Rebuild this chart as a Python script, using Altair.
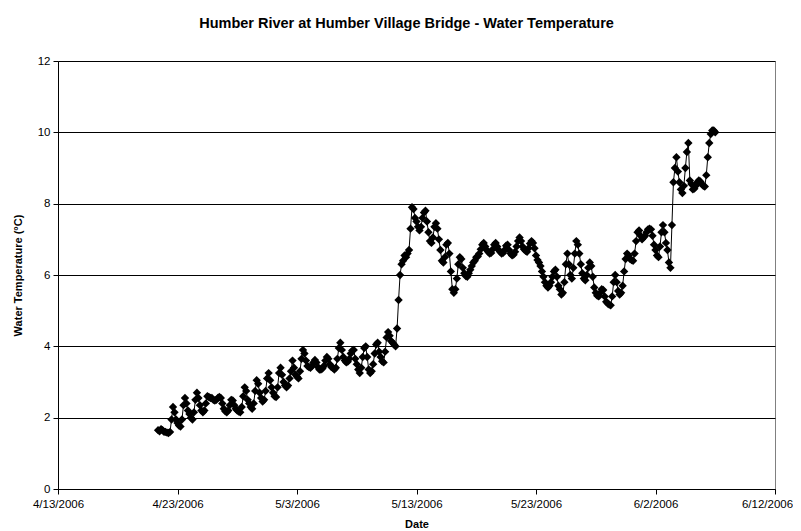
import altair as alt
import pandas as pd

# Readings every 3 hours, first reading 2006-04-21 09:00
first_reading = "2006-04-21 09:00"
step_hours = 3

# each row is one day (00,03,06,09,12,15,18,21 h); first day starts at 09 h
t_0421 = [1.65, 1.62, 1.68, 1.65, 1.60]
t_0422 = [1.60, 1.58, 1.57, 1.60, 1.95, 2.30, 2.15, 1.95]
t_0423 = [1.85, 1.78, 1.75, 1.95, 2.35, 2.55, 2.40, 2.20]
t_0424 = [2.10, 2.00, 1.95, 2.15, 2.50, 2.70, 2.55, 2.35]
t_0425 = [2.20, 2.15, 2.20, 2.40, 2.60, 2.58, 2.55, 2.55]
t_0426 = [2.50, 2.48, 2.50, 2.55, 2.58, 2.55, 2.40, 2.25]
t_0427 = [2.18, 2.15, 2.20, 2.35, 2.50, 2.48, 2.35, 2.25]
t_0428 = [2.20, 2.17, 2.15, 2.30, 2.60, 2.85, 2.75, 2.50]
t_0429 = [2.40, 2.30, 2.25, 2.40, 2.75, 3.05, 2.95, 2.70]
t_0430 = [2.55, 2.45, 2.50, 2.75, 3.10, 3.25, 3.05, 2.85]
t_0501 = [2.70, 2.60, 2.58, 2.85, 3.25, 3.40, 3.20, 3.00]
t_0502 = [2.90, 2.85, 2.90, 3.10, 3.30, 3.60, 3.40, 3.20]
t_0503 = [3.15, 3.10, 3.30, 3.65, 3.90, 3.80, 3.60, 3.45]
t_0504 = [3.42, 3.40, 3.45, 3.55, 3.62, 3.55, 3.42, 3.35]
t_0505 = [3.35, 3.38, 3.45, 3.60, 3.70, 3.65, 3.50, 3.42]
t_0506 = [3.40, 3.35, 3.40, 3.65, 3.95, 4.10, 3.90, 3.70]
t_0507 = [3.60, 3.55, 3.57, 3.65, 3.80, 3.88, 3.90, 3.65]
t_0508 = [3.50, 3.35, 3.25, 3.40, 3.70, 3.95, 4.00, 3.70]
t_0509 = [3.35, 3.25, 3.30, 3.50, 3.80, 4.05, 4.10, 3.85]
t_0510 = [3.70, 3.58, 3.55, 3.85, 4.25, 4.40, 4.30, 4.15]
t_0511 = [4.10, 4.05, 4.00, 4.50, 5.30, 6.00, 6.30, 6.40]
t_0512 = [6.55, 6.50, 6.60, 6.70, 7.30, 7.90, 7.85, 7.60]
t_0513 = [7.50, 7.35, 7.25, 7.35, 7.60, 7.75, 7.80, 7.50]
t_0514 = [7.20, 6.95, 6.90, 7.05, 7.35, 7.45, 7.30, 7.00]
t_0515 = [6.70, 6.40, 6.35, 6.50, 6.85, 6.90, 6.60, 6.10]
t_0516 = [5.60, 5.50, 5.60, 5.90, 6.30, 6.50, 6.45, 6.20]
t_0517 = [6.05, 5.97, 5.95, 6.05, 6.15, 6.25, 6.35, 6.40]
t_0518 = [6.50, 6.52, 6.60, 6.72, 6.85, 6.90, 6.80, 6.70]
t_0519 = [6.65, 6.60, 6.62, 6.72, 6.85, 6.90, 6.80, 6.70]
t_0520 = [6.65, 6.60, 6.62, 6.70, 6.82, 6.85, 6.70, 6.60]
t_0521 = [6.55, 6.57, 6.65, 6.80, 6.95, 7.05, 6.95, 6.80]
t_0522 = [6.72, 6.68, 6.65, 6.75, 6.88, 6.95, 6.90, 6.75]
t_0523 = [6.55, 6.42, 6.35, 6.25, 6.10, 5.95, 5.80, 5.70]
t_0524 = [5.65, 5.70, 5.80, 5.95, 6.10, 6.15, 5.95, 5.70]
t_0525 = [5.60, 5.45, 5.50, 5.80, 6.30, 6.60, 6.30, 6.00]
t_0526 = [5.90, 6.20, 6.60, 6.95, 6.85, 6.60, 6.30, 6.05]
t_0527 = [5.90, 5.85, 6.00, 6.20, 6.35, 6.25, 5.95, 5.65]
t_0528 = [5.50, 5.42, 5.40, 5.50, 5.60, 5.58, 5.40, 5.25]
t_0529 = [5.20, 5.17, 5.15, 5.40, 5.80, 6.00, 5.80, 5.55]
t_0530 = [5.45, 5.50, 5.70, 6.10, 6.45, 6.60, 6.55, 6.45]
t_0531 = [6.42, 6.40, 6.60, 6.95, 7.20, 7.25, 7.10, 7.00]
t_0601 = [7.05, 7.10, 7.20, 7.28, 7.30, 7.28, 7.10, 6.85]
t_0602 = [6.70, 6.55, 6.50, 6.80, 7.20, 7.40, 7.20, 6.90]
t_0603 = [6.70, 6.35, 6.20, 7.40, 8.60, 9.00, 9.30, 8.90]
t_0604 = [8.60, 8.40, 8.30, 8.50, 9.00, 9.45, 9.70, 8.65]
t_0605 = [8.55, 8.40, 8.42, 8.50, 8.60, 8.65, 8.62, 8.55]
t_0606 = [8.50, 8.48, 8.80, 9.30, 9.70, 9.95, 10.05, 10.05]
t_0607 = [10.00]

days = [t_0421, t_0422, t_0423, t_0424, t_0425, t_0426, t_0427, t_0428,
        t_0429, t_0430, t_0501, t_0502, t_0503, t_0504, t_0505, t_0506,
        t_0507, t_0508, t_0509, t_0510, t_0511, t_0512, t_0513, t_0514,
        t_0515, t_0516, t_0517, t_0518, t_0519, t_0520, t_0521, t_0522,
        t_0523, t_0524, t_0525, t_0526, t_0527, t_0528, t_0529, t_0530,
        t_0531, t_0601, t_0602, t_0603, t_0604, t_0605, t_0606, t_0607]

temps = [v for d in days for v in d]
times = pd.date_range(first_reading, periods=len(temps), freq=f"{step_hours}h")
df = pd.DataFrame({"time": times.strftime("%Y-%m-%dT%H:%M:%S"), "temp": temps})

x_tick_dates = [(2006, 4, 13), (2006, 4, 23), (2006, 5, 3), (2006, 5, 13),
                (2006, 5, 23), (2006, 6, 2), (2006, 6, 12)]
y_ticks = [0, 2, 4, 6, 8, 10, 12]

FONT = "Liberation Sans"
xvals = [alt.DateTime(year=y, month=m, date=d) for (y, m, d) in x_tick_dates]

x_enc = alt.X(
    "time:T",
    scale=alt.Scale(domain=[xvals[0], xvals[-1]]),
    axis=alt.Axis(
        values=xvals, format="%-m/%-d/%Y", title="Date", grid=False,
        labelFontSize=11.5, labelColor="black", labelFont=FONT, labelPadding=4,
        labelOffset={"condition": {"test": "datum.value > 1149600000000", "value": -8},
                     "value": 0},
        tickColor="black", tickSize=5, domainColor="black", labelFlush=False,
        titleFont=FONT, titleFontSize=11, titleFontWeight="bold", titleColor="black",
        titlePadding=9,
    ),
)
y_enc = alt.Y(
    "temp:Q",
    scale=alt.Scale(domain=[0, 12], nice=False),
    axis=alt.Axis(
        values=y_ticks, title="Water Temperature (°C)", grid=True,
        gridColor="black", gridOpacity=1, gridWidth=1,
        labelFontSize=11.5, labelColor="black", labelFont=FONT, labelPadding=3,
        tickColor="black", tickSize=5, domainColor="black",
        titleFont=FONT, titleFontSize=11, titleFontWeight="bold", titleColor="black",
        titlePadding=14,
    ),
)

line = alt.Chart(df).mark_line(color="black", strokeWidth=1).encode(x=x_enc, y=y_enc)
pts = alt.Chart(df).mark_point(shape="diamond", filled=True, size=70,
                               color="black", opacity=1).encode(x=x_enc, y=y_enc)

chart = alt.layer(line, pts).properties(
    width=717,
    height=428,
    autosize=alt.AutoSizeParams(type="none"),
    padding={"left": 50, "top": 53, "right": 18, "bottom": 40},
    title=alt.TitleParams(
        "Humber River at Humber Village Bridge - Water Temperature",
        font=FONT, fontSize=14.5, fontWeight="bold", color="black",
        anchor="middle", offset=24, dx=-10,
    ),
).configure_view(stroke="#808080", strokeWidth=1)

chart.save("out.html", embed_options={"renderer": "svg", "actions": False})
